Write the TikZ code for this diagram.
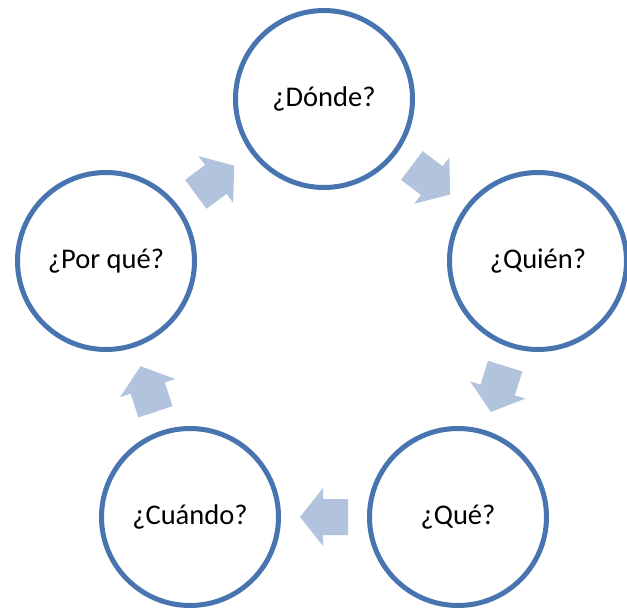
\documentclass[tikz,border=0pt]{standalone}
\usepackage{fontspec}
\setmainfont{Carlito}
\usetikzlibrary{calc}
\definecolor{ringblue}{RGB}{72,117,175}
\definecolor{arrowblue}{RGB}{178,195,222}
\begin{document}
\begin{tikzpicture}[x=1pt,y=-1pt,
  ring/.style={circle,draw=ringblue,line width=5pt,fill=white,minimum size=177pt,inner sep=0pt,
    font=\fontsize{28.5}{34}\selectfont},
  arrowfill/.style={fill=arrowblue,draw=none}]
\useasboundingbox (0,0) rectangle (627,610);
\node[ring] (d) at (324,99)  {¿Dónde?};
\node[ring] (q) at (538,261) {¿Quién?};
\node[ring] (w) at (458,517) {¿Qué?};
\node[ring] (c) at (190,517) {¿Cuándo?};
\node[ring] (p) at (106,261) {¿Por qué?};
\foreach \a/\b in {d/q, q/w, w/c, c/p, p/d} {
  \coordinate (m) at ($(\a)!0.5!(\b)$);
  \pgfmathanglebetweenpoints{\pgfpointanchor{\a}{center}}{\pgfpointanchor{\b}{center}}
  \let\ang\pgfmathresult
  \begin{scope}[shift={(m)}, rotate=\ang]
    \fill[arrowfill] (-24,-18) -- (1,-18) -- (1,-29) -- (24,0) -- (1,29) -- (1,18) -- (-24,18) -- cycle;
  \end{scope}
}
\end{tikzpicture}
\end{document}
